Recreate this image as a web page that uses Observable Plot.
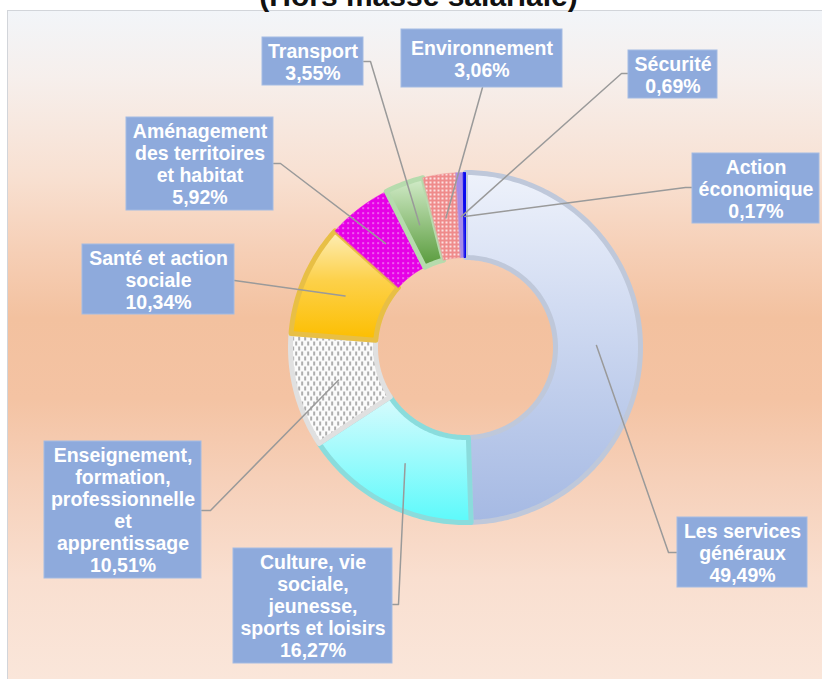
<!DOCTYPE html>
<html><head><meta charset="utf-8">
<script src="https://cdn.jsdelivr.net/npm/d3@7"></script>
<script src="https://cdn.jsdelivr.net/npm/@observablehq/plot@0.6"></script>
<style>body{margin:0;background:#fff;overflow:hidden;} svg{display:block;}</style>
</head><body><div id="chart"></div>
<script>
// ---- data ----
const title = "(Hors masse salariale)";
const categories = [
  "Les services généraux",
  "Culture, vie sociale, jeunesse, sports et loisirs",
  "Enseignement, formation, professionnelle et apprentissage",
  "Santé et action sociale",
  "Aménagement des territoires et habitat",
  "Transport",
  "Environnement",
  "Sécurité",
  "Action économique"
];
const labelLines = [
  "Les services\ngénéraux",
  "Culture, vie\nsociale,\njeunesse,\nsports et loisirs",
  "Enseignement,\nformation,\nprofessionnelle\net\napprentissage",
  "Santé et action\nsociale",
  "Aménagement\ndes territoires\net habitat",
  "Transport",
  "Environnement",
  "Sécurité",
  "Action\néconomique"
];
const shares = [49.49, 16.27, 10.51, 10.34, 5.92, 3.55, 3.06, 0.69, 0.17];

// ---- styles ----
const fills = ["url(#gServices)", "url(#gCulture)", "url(#pEns)", "url(#gSante)", "url(#pAmen)", "url(#gTransport)", "url(#pEnv)", "#a68be8", "#0a0aee"];
const strokes = ["#bfc8da", "#8adcdc", "#e0e0e0", "#e8bf45", "#e400e4", "#b6dbad", "#f09a9a", "#a68be8", "#0a0aee"];
const strokeW = [5, 5, 5, 5, 0.5, 5, 0.5, 0.5, 1];

// ---- layout (pixels) ----
const CX = 465, CY = 347, R_OUT = 175, R_IN = 90, R_LEAD = 131;
// label boxes: [left, top, right, bottom], leader anchor and elbow
const boxes = [
  [677, 517, 807, 587], [233, 548, 392, 663], [44, 441, 201, 578], [82, 244, 234, 314],
  [126, 117, 273, 210], [262, 37, 363, 85], [401, 29, 562, 87], [628, 50, 717, 98], [692, 153, 819, 223]
];
const anchors = [
  [[677, 552], [668, 552]], [[392, 604], [398, 604]], [[201, 510], [210, 510]], [[234, 280]],
  [[273, 163], [280, 163]], [[363, 61], [370, 61]], [[482, 87]], [[628, 73], [621, 73]], [[692, 187], [685, 187]]
];

const total = d3.sum(shares);
let acc = 0;
const slices = shares.map((v, i) => {
  const a0 = acc / total * 2 * Math.PI; acc += v;
  const a1 = acc / total * 2 * Math.PI;
  return {i, a0, a1, mid: (a0 + a1) / 2};
});
const ringPts = slices.flatMap(s => {
  const n = Math.max(2, Math.ceil((s.a1 - s.a0) / (Math.PI / 180)));
  const pts = [];
  for (let k = 0; k <= n; k++) { const a = s.a0 + (s.a1 - s.a0) * k / n; pts.push({i: s.i, x: R_OUT * Math.sin(a), y: -R_OUT * Math.cos(a)}); }
  for (let k = n; k >= 0; k--) { const a = s.a0 + (s.a1 - s.a0) * k / n; pts.push({i: s.i, x: R_IN * Math.sin(a), y: -R_IN * Math.cos(a)}); }
  return pts;
});
const leaderPts = slices.flatMap(s => {
  const pts = anchors[s.i].map(([px, py]) => ({i: s.i, x: px - CX, y: py - CY}));
  pts.push({i: s.i, x: R_LEAD * Math.sin(s.mid), y: -R_LEAD * Math.cos(s.mid)});
  return pts;
});
const fmt = v => v.toFixed(2).replace(".", ",") + "%";
const labels = boxes.map((b, i) => ({
  x1: b[0] - CX, x2: b[2] - CX, y1: b[1] - CY, y2: b[3] - CY,
  text: labelLines[i] + "\n" + fmt(shares[i]), name: categories[i]
}));

const plot = Plot.plot({
  width: 822, height: 679,
  marginLeft: 7, marginTop: 10, marginRight: 0, marginBottom: 0,
  x: {domain: [7 - CX, 822 - CX], range: [7, 822], axis: null},
  y: {domain: [10 - CY, 679 - CY], range: [10, 679], axis: null},
  color: {type: "identity"},
  style: {fontFamily: "'Liberation Sans', Arial, sans-serif", background: "transparent", overflow: "visible"},
  marks: [
    Plot.frame({fill: "url(#bg)", stroke: "#d2d5da"}),
    Plot.line(ringPts, {x: "x", y: "y", z: "i", fill: d => fills[d.i], stroke: d => strokes[d.i], strokeWidth: d => strokeW[d.i], curve: "linear-closed", strokeLinejoin: "round"}),
    Plot.line(leaderPts, {x: "x", y: "y", z: "i", stroke: "#9a9a9a", strokeWidth: 1.5}),
    Plot.rect(labels, {x1: "x1", x2: "x2", y1: "y1", y2: "y2", fill: "#8eaadc", stroke: "#a3bbe3", strokeWidth: 1}),
    Plot.text(labels, {x: d => (d.x1 + d.x2) / 2, y: d => (d.y1 + d.y2) / 2, text: "text", fill: "white", fontSize: 19.5, fontWeight: "bold", lineHeight: 1.13}),
    Plot.text([title], {x: 418 - CX, y: -4 - CY, text: d => d, fontSize: 30, fontWeight: "bold", fill: "#111"})
  ]
});

const defs = d3.select(plot).insert("defs", ":first-child");
function lin(id, stops) {
  const g = defs.append("linearGradient").attr("id", id).attr("x1", 0).attr("y1", 0).attr("x2", 0).attr("y2", 1);
  stops.forEach(([o, c]) => g.append("stop").attr("offset", o).attr("stop-color", c));
}
lin("bg", [[0, "#f2f5f9"], [0.1, "#f6efec"], [0.25, "#f8e0d1"], [0.36, "#f6cfb6"], [0.46, "#f3c19f"], [0.58, "#f4c3a3"], [0.7, "#f6d0b9"], [0.85, "#f9dfd0"], [1, "#fae6da"]]);
lin("gServices", [[0, "#eef2fb"], [0.5, "#c9d5ef"], [1, "#a5b9e3"]]);
lin("gCulture", [[0, "#d8fbfd"], [1, "#5cfafb"]]);
lin("gSante", [[0, "#fdeeb8"], [0.45, "#fdd14a"], [1, "#fcbe00"]]);
lin("gTransport", [[0, "#d3ecca"], [1, "#579a3a"]]);
const pEns = defs.append("pattern").attr("id", "pEns").attr("patternUnits", "userSpaceOnUse").attr("width", 6).attr("height", 10);
pEns.append("rect").attr("width", 6).attr("height", 10).attr("fill", "#fbfbfb");
pEns.append("rect").attr("x", 1).attr("y", 1).attr("width", 1.2).attr("height", 4).attr("fill", "#7a7a7a");
pEns.append("rect").attr("x", 4).attr("y", 6).attr("width", 1.2).attr("height", 4).attr("fill", "#7a7a7a");
const pAmen = defs.append("pattern").attr("id", "pAmen").attr("patternUnits", "userSpaceOnUse").attr("width", 5).attr("height", 5);
pAmen.append("rect").attr("width", 5).attr("height", 5).attr("fill", "#e600e6");
pAmen.append("rect").attr("x", 2).attr("y", 2).attr("width", 1.2).attr("height", 1.2).attr("fill", "#ffffff");
const pEnv = defs.append("pattern").attr("id", "pEnv").attr("patternUnits", "userSpaceOnUse").attr("width", 4).attr("height", 4);
pEnv.append("rect").attr("width", 4).attr("height", 4).attr("fill", "#ef8b8b");
pEnv.append("rect").attr("x", 1).attr("y", 1).attr("width", 2).attr("height", 2).attr("fill", "#fbe0e0");

document.getElementById("chart").append(plot);
</script>
</body></html>
